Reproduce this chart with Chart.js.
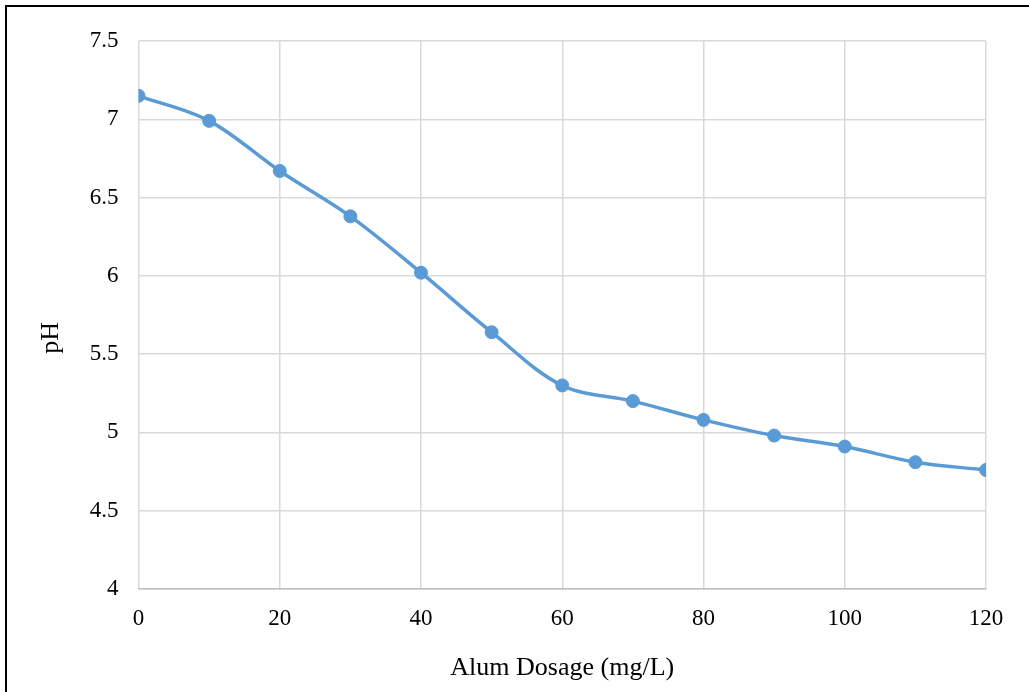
<!DOCTYPE html>
<html>
<head>
<meta charset="utf-8">
<script src="https://cdn.jsdelivr.net/npm/chart.js@4"></script>
<style>
    body { margin: 0; background: #fff; }
    #frame {
        position: absolute; left: 5px; top: 5px; width: 1030px; height: 700px;
        border-left: 2px solid #000; border-top: 2px solid #000;
    }
    #phChart { position: absolute; left: 0; top: 0; }
</style>
</head>
<body>
<div id="frame"></div>
<canvas id="phChart" width="1029" height="692"></canvas>
<script>
// Alum dosage (mg/L) against pH
const dosage = [0, 10, 20, 30, 40, 50, 60, 70, 80, 90, 100, 110, 120];
const phValues = [7.15, 6.99, 6.67, 6.38, 6.02, 5.64, 5.30, 5.20, 5.08, 4.98, 4.91, 4.81, 4.76];

const xTitle = 'Alum Dosage (mg/L)';
// trailing spaces push the rotated label a bit lower, as in the original
const yTitle = 'pH       ';

const lineColor = '#5B9BD5';
const gridColor = '#d9d9d9';
const fontFamily = '"Liberation Serif", "Times New Roman", serif';

const ctx = document.getElementById('phChart').getContext('2d');
new Chart(ctx, {
    type: 'line',
    data: {
        datasets: [{
            label: 'pH',
            data: dosage.map((d, i) => ({ x: d, y: phValues[i] })),
            borderColor: lineColor,
            backgroundColor: lineColor,
            borderWidth: 3.5,
            pointRadius: 6.5,
            pointBackgroundColor: lineColor,
            pointBorderColor: lineColor,
            pointBorderWidth: 1,
            tension: 0.35,
            fill: false
        }]
    },
    options: {
        responsive: false,
        animation: false,
        devicePixelRatio: 1,
        layout: { padding: { left: 20, top: 41, right: 43, bottom: 0 } },
        plugins: {
            legend: { display: false },
            tooltip: { enabled: false }
        },
        scales: {
            x: {
                type: 'linear',
                min: 0,
                max: 120,
                afterFit: scale => { scale.height = 103; },
                ticks: {
                    stepSize: 20,
                    padding: 16,
                    color: '#000',
                    font: { family: fontFamily, size: 23 }
                },
                grid: { color: gridColor, lineWidth: 1.5, drawTicks: false },
                border: { color: '#bfbfbf', width: 1.5 },
                title: {
                    display: true,
                    text: xTitle,
                    color: '#000',
                    font: { family: fontFamily, size: 26 },
                    padding: { top: 0, bottom: 8 }
                }
            },
            y: {
                min: 4,
                max: 7.5,
                afterFit: scale => { scale.width = 118.5; },
                ticks: {
                    stepSize: 0.5,
                    padding: 20,
                    color: '#000',
                    font: { family: fontFamily, size: 23 },
                    callback: v => v.toString()
                },
                grid: { color: gridColor, lineWidth: 1.5, drawTicks: false },
                border: { display: false },
                title: {
                    display: true,
                    text: yTitle,
                    color: '#000',
                    font: { family: fontFamily, size: 26 },
                    padding: { top: 16, bottom: 0 }
                }
            }
        }
    }
});
</script>
</body>
</html>
